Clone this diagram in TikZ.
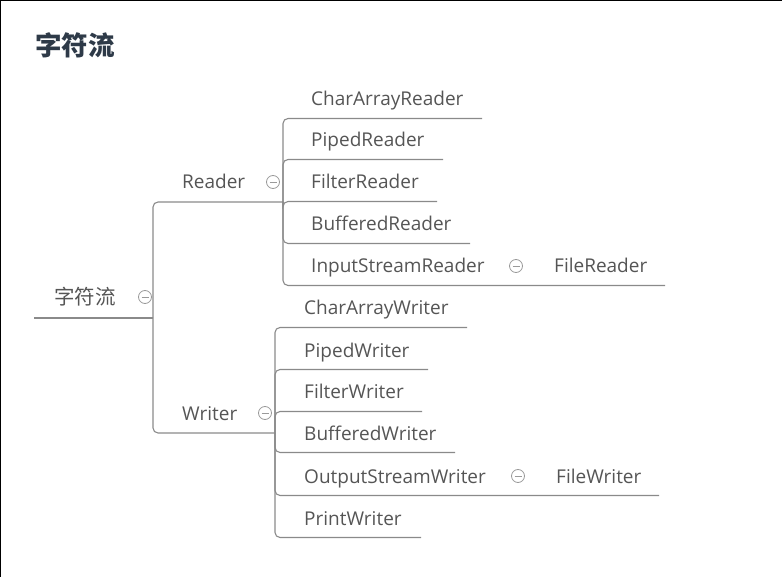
\documentclass[tikz,border=0pt]{standalone}
\usepackage{fontspec}
\setmainfont{Open Sans}
\newfontfamily\cjk{Noto Sans CJK SC}
\usetikzlibrary{positioning}
\definecolor{txtgray}{HTML}{555555}
\definecolor{lngray}{HTML}{8A8A8A}
\definecolor{foldgray}{HTML}{9A9A9A}
\definecolor{ttlblue}{HTML}{2E3A48}
\tikzset{
  leaf/.style={anchor=base west, inner sep=0pt, text=txtgray, font=\fontsize{19}{22}\selectfont},
  link/.style={draw=lngray, line width=1.1pt, rounded corners=5pt},
  fold/.style={circle, draw=foldgray, line width=0.8pt, minimum size=13pt, inner sep=0pt,
    path picture={\draw[foldgray, line width=0.8pt] ([xshift=-3.5pt]path picture bounding box.center) -- ([xshift=3.5pt]path picture bounding box.center);}},
}
\begin{document}
\begin{tikzpicture}[x=1pt, y=-1pt]
  \useasboundingbox (0,0) rectangle (782,577);
  %cornice
  \draw[line width=2pt] (0,577) -- (0,0) -- (782,0);
  %titolo
  \node[anchor=base west, inner sep=0pt, text=ttlblue, font=\cjk\bfseries\fontsize{26.5}{30}\selectfont] (titolo) at (35,56) {字符流};
  %radice
  \node[leaf, font=\cjk\fontsize{20.5}{24}\selectfont] (root) at (54,305) {字符流};
  \node[fold] (rootfold) at (145,297) {};
  \coordinate (rootl) at (34,318);
  \coordinate (roothub) at (153,318);
  \draw[link] (rootl) -- (roothub);
  %Reader
  \node[leaf] (reader) at (182,189) {Reader};
  \node[fold] (readerfold) at (273,182) {};
  \coordinate (readerhub) at (283,202);
  \draw[link] (roothub) |- (readerhub);
  %Writer
  \node[leaf] (writer) at (182,420) {Writer};
  \node[fold] (writerfold) at (265,413) {};
  \coordinate (writerhub) at (275,433);
  \draw[link] (roothub) |- (writerhub);
  %figli di Reader
  \foreach \n/\y/\e in {CharArrayReader/99/482, PipedReader/140/443, FilterReader/182/437,
      BufferedReader/224/470, InputStreamReader/266/665}{
    \node[leaf] (\n) at (311,\y+7) {\n};
    \coordinate (\n-e) at (\e,\y+19.5);
    \draw[link] (readerhub) |- (\n-e);
  }
  \node[fold] (isrfold) at (516,266) {};
  \node[leaf] (FileReader) at (554,273) {FileReader};
  %figli di Writer
  \foreach \n/\y/\e in {CharArrayWriter/308/467, PipedWriter/350/428, FilterWriter/392/422,
      BufferedWriter/433/455, OutputStreamWriter/476/659, PrintWriter/518/421}{
    \node[leaf] (\n) at (304,\y+7) {\n};
    \coordinate (\n-e) at (\e,\y+19.5);
    \draw[link] (writerhub) |- (\n-e);
  }
  \node[fold] (oswfold) at (518,476) {};
  \node[leaf] (FileWriter) at (556,483) {FileWriter};
\end{tikzpicture}
\end{document}
